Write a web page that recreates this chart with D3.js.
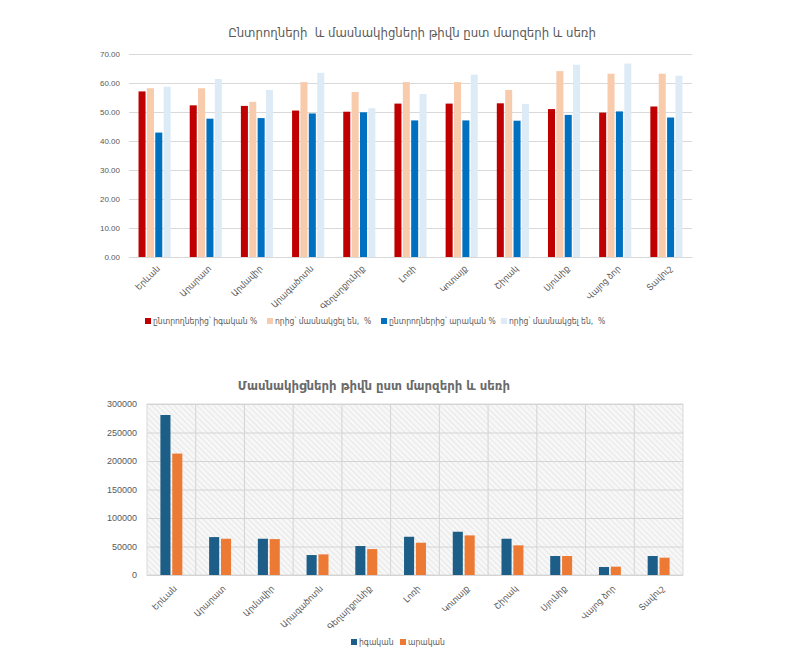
<!DOCTYPE html>
<html>
<head>
<meta charset="utf-8">
<script src="https://cdn.jsdelivr.net/npm/d3@7"></script>
<style>
  body { margin: 0; background: #fff; }
  svg { display: block; font-family: "Liberation Sans", "DejaVu Sans Condensed", "DejaVu Sans", sans-serif; }
  svg text { white-space: pre; }
  .tick text { fill: #595959; }
</style>
</head>
<body>
<svg id="chart" width="800" height="657"></svg>
<script>
// regions (marz)
var regions = ["Երևան", "Արարատ", "Արմավիր", "Արագածոտն", "Գեղարքունիք", "Լոռի", "Կոտայք", "Շիրակ", "Սյունիք", "Վայոց ձոր", "Տավուշ"];

// top chart, percents
var femaleVoters  = [57.1, 52.3, 52.1, 50.5, 50.1, 52.9, 52.9, 53.0, 51.0, 49.8, 51.9];
var femaleTurnout = [58.2, 58.2, 53.5, 60.3, 56.9, 60.3, 60.3, 57.6, 64.1, 63.2, 63.2];
var maleVoters    = [42.9, 47.7, 47.9, 49.5, 49.9, 47.1, 47.1, 47.0, 49.0, 50.2, 48.1];
var maleTurnout   = [58.7, 61.4, 57.6, 63.5, 51.3, 56.2, 62.9, 52.8, 66.3, 66.7, 62.5];
var topSeries = ["ընտրողներից՝ իգական %", "որից՝ մասնակցել են,  %", "ընտրողներից՝ արական %", "որից՝ մասնակցել են,  %"];
var topColors = ["#c00000", "#f8cbad", "#0070c0", "#ddebf7"];
var topTicks = [0, 10, 20, 30, 40, 50, 60, 70];

// bottom chart, participants
var femaleCount = [280700, 66500, 63600, 35000, 50800, 67100, 75900, 63600, 33300, 14000, 33300];
var maleCount   = [213000, 63600, 63000, 36200, 45500, 56600, 69500, 52000, 33300, 14600, 30400];
var bottomSeries = ["իգական", "արական"];
var bottomColors = ["#1c5e87", "#ed7a34"];
var bottomTicks = [0, 50000, 100000, 150000, 200000, 250000, 300000];

var svg = d3.select("#chart");
var grey = "#595959";
var armFont = "'DejaVu Sans Condensed', 'DejaVu Sans', sans-serif";

// ---------- top chart ----------
var t = { left: 129, right: 692, top: 54, bottom: 257 };

var tx = d3.scaleBand().domain(regions).range([t.left, t.right]).paddingInner(0.32).paddingOuter(0.16);
var tsub = d3.scaleBand().domain(d3.range(4)).range([0, tx.bandwidth()]).padding(0.16);
var ty = d3.scaleLinear().domain([0, 70]).range([t.bottom, t.top]);

svg.append("text")
    .attr("x", 412).attr("y", 37)
    .attr("text-anchor", "middle")
    .attr("font-family", armFont)
    .attr("font-size", 13)
    .attr("fill", grey)
    .text("Ընտրողների  և մասնակիցների թիվն ըստ մարզերի և սեռի");

var tyAxis = svg.append("g")
    .attr("transform", "translate(" + t.left + ",0)")
    .call(d3.axisLeft(ty).tickValues(topTicks).tickSize(-(t.right - t.left)).tickFormat(d3.format(".2f")));
tyAxis.select(".domain").remove();
tyAxis.selectAll(".tick line").attr("stroke", "#d9d9d9");
tyAxis.selectAll(".tick text").attr("x", -9).attr("font-size", 8);

var topData = [femaleVoters, femaleTurnout, maleVoters, maleTurnout];
topData.forEach(function(vals, s) {
    svg.append("g").selectAll("rect")
        .data(vals)
        .enter().append("rect")
            .attr("x", (d, i) => tx(regions[i]) + tsub(s))
            .attr("y", d => ty(d))
            .attr("width", tsub.bandwidth())
            .attr("height", d => ty(0) - ty(d))
            .attr("fill", topColors[s]);
});

var txAxis = svg.append("g")
    .attr("transform", "translate(0," + t.bottom + ")")
    .call(d3.axisBottom(tx).tickSize(0));
txAxis.select(".domain").attr("stroke", "#d9d9d9");
txAxis.selectAll(".tick text")
    .attr("font-family", armFont)
    .attr("font-size", 9)
    .attr("text-anchor", "end")
    .attr("dy", 0)
    .attr("transform", "translate(4,10) rotate(-45)");

var tLegX = [145, 267, 381, 501];
var tLeg = svg.append("g").selectAll("g")
    .data(topSeries)
    .enter().append("g")
        .attr("transform", (d, i) => "translate(" + tLegX[i] + ",324)");
tLeg.append("rect").attr("x", 0).attr("y", -6).attr("width", 6).attr("height", 6).attr("fill", (d, i) => topColors[i]);
tLeg.append("text").attr("x", 8).attr("y", 0)
    .attr("font-family", armFont).attr("font-size", 8.5)
    .attr("fill", grey).text(d => d);

// ---------- bottom chart ----------
var b = { left: 147, right: 683, top: 404, bottom: 575 };

var bx = d3.scaleBand().domain(regions).range([b.left, b.right]).paddingInner(0.55).paddingOuter(0.275);
var bsub = d3.scaleBand().domain(d3.range(2)).range([0, bx.bandwidth()]).padding(0.15).paddingOuter(0);
var by = d3.scaleLinear().domain([0, 300000]).range([b.bottom, b.top]);

var defs = svg.append("defs");
var pat = defs.append("pattern")
    .attr("id", "hatch")
    .attr("width", 4).attr("height", 4)
    .attr("patternUnits", "userSpaceOnUse")
    .attr("patternTransform", "rotate(-45)");
pat.append("rect").attr("width", 4).attr("height", 4).attr("fill", "#f7f7f7");
pat.append("line").attr("x1", 0).attr("y1", 0).attr("x2", 0).attr("y2", 4)
    .attr("stroke", "#dcdcdc").attr("stroke-width", 1.2);

svg.append("text")
    .attr("x", 374).attr("y", 390)
    .attr("text-anchor", "middle")
    .attr("font-family", armFont)
    .attr("font-size", 13)
    .attr("font-weight", "bold")
    .attr("fill", "#6a6a6a")
    .text("Մասնակիցների թիվն ըստ մարզերի և սեռի");

svg.append("rect")
    .attr("x", b.left).attr("y", b.top)
    .attr("width", b.right - b.left).attr("height", b.bottom - b.top)
    .attr("fill", "url(#hatch)")
    .attr("stroke", "#d9d9d9");

// vertical grid between categories
var step = bx.step();
svg.append("g").selectAll("line")
    .data(regions.slice(1))
    .enter().append("line")
        .attr("x1", d => bx(d) - bx.paddingInner() * step / 2)
        .attr("x2", d => bx(d) - bx.paddingInner() * step / 2)
        .attr("y1", b.top).attr("y2", b.bottom)
        .attr("stroke", "#d4d4d4");

var byAxis = svg.append("g")
    .attr("transform", "translate(" + b.left + ",0)")
    .call(d3.axisLeft(by).tickValues(bottomTicks).tickSize(-(b.right - b.left)).tickFormat(d3.format("d")));
byAxis.select(".domain").remove();
byAxis.selectAll(".tick line").attr("stroke", "#d4d4d4");
byAxis.selectAll(".tick text").attr("x", -10).attr("font-size", 9);

var bottomData = [femaleCount, maleCount];
bottomData.forEach(function(vals, s) {
    svg.append("g").selectAll("rect")
        .data(vals)
        .enter().append("rect")
            .attr("x", (d, i) => bx(regions[i]) + bsub(s))
            .attr("y", d => by(d))
            .attr("width", bsub.bandwidth())
            .attr("height", d => by(0) - by(d))
            .attr("fill", bottomColors[s]);
});

var bxAxis = svg.append("g")
    .attr("transform", "translate(0," + b.bottom + ")")
    .call(d3.axisBottom(bx).tickSize(0));
bxAxis.select(".domain").remove();
bxAxis.selectAll(".tick text")
    .attr("font-family", armFont)
    .attr("font-size", 9)
    .attr("text-anchor", "end")
    .attr("dy", 0)
    .attr("transform", "translate(4,12) rotate(-45)");

var bLegX = [351, 400];
var bLeg = svg.append("g").selectAll("g")
    .data(bottomSeries)
    .enter().append("g")
        .attr("transform", (d, i) => "translate(" + bLegX[i] + ",645)");
bLeg.append("rect").attr("x", 0).attr("y", -6).attr("width", 6).attr("height", 6).attr("fill", (d, i) => bottomColors[i]);
bLeg.append("text").attr("x", 8).attr("y", 0)
    .attr("font-family", armFont).attr("font-size", 8.5)
    .attr("fill", grey).text(d => d);
</script>
</body>
</html>
